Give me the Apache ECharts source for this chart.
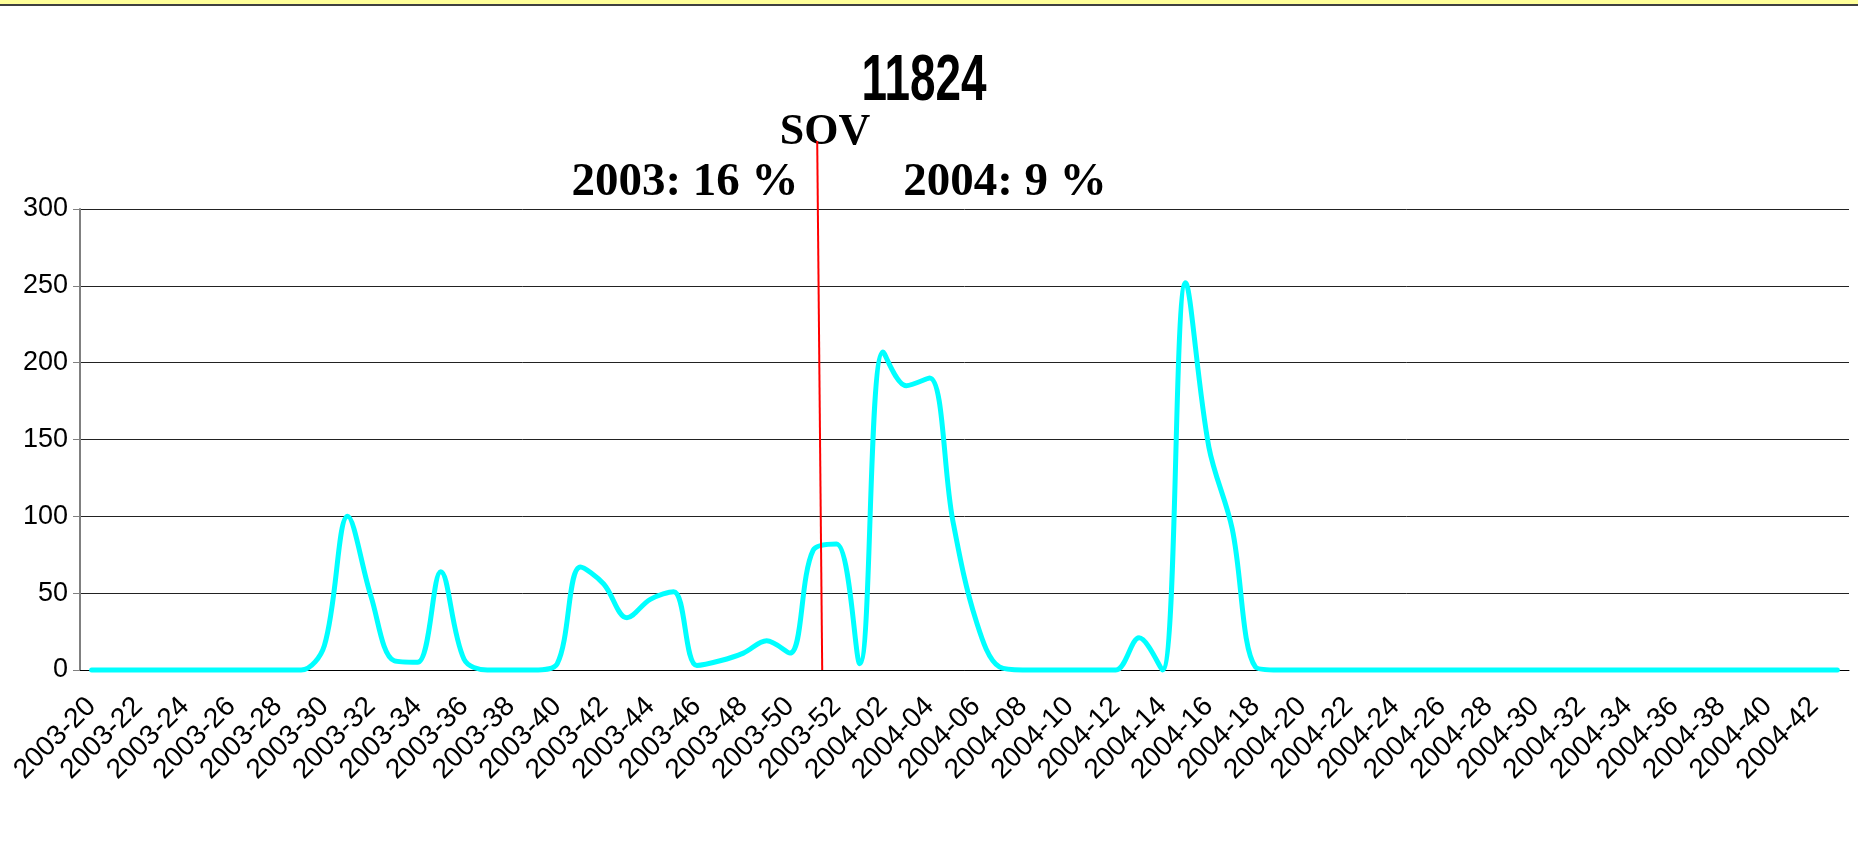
<!DOCTYPE html>
<html>
<head>
<meta charset="utf-8">
<title>11824</title>
<script src="https://cdn.jsdelivr.net/npm/echarts@6/dist/echarts.min.js"></script>
<style>
  html, body { margin: 0; padding: 0; background: #fff; }
  #chart { width: 1858px; height: 849px; }
</style>
</head>
<body>
<div id="chart"></div>
<script>
// week labels: 2003-20 .. 2003-52, 2004-01 .. 2004-43
const weeks2003 = [20, 52]
const weeks2004 = [1, 43]
const categories = []
for (let w = weeks2003[0]; w <= weeks2003[1]; w++) categories.push('2003-' + String(w).padStart(2, '0'))
for (let w = weeks2004[0]; w <= weeks2004[1]; w++) categories.push('2004-' + String(w).padStart(2, '0'))

// weekly values
const values = [
  0, 0, 0, 0, 0, 0, 0, 0, 0, 0,
  16, 100, 48, 6, 5, 64, 7, 0, 0, 0,
  4, 67, 56, 34, 46, 51, 3, 6, 11, 19,
  11, 78, 82, 4, 207, 185, 190, 97, 32, 2,
  0, 0, 0, 0, 0, 21, 0, 252, 145, 92,
  2, 0, 0, 0, 0, 0, 0, 0, 0, 0,
  0, 0, 0, 0, 0, 0, 0, 0, 0, 0,
  0, 0, 0, 0, 0, 0
]

const yTicks = { min: 0, max: 300, interval: 50 }

// texts above the plot
const chartTitle = '11824'
const sovLabel = 'SOV'
const sov2003 = '2003: 16 %'
const sov2004 = '2004: 9 %'
// the red split line sits just after this week
const splitIndex = 31

const chart = echarts.init(document.getElementById('chart'))

const serifBold = {
  fontFamily: '"Liberation Serif", "Times New Roman", serif',
  fontWeight: 'bold',
  color: '#000'
}

const option = {
  backgroundColor: '#fff',
  animation: false,
  title: [
    { text: sovLabel, left: 820, top: 106, textAlign: 'center', textStyle: Object.assign({ fontSize: 44 }, serifBold) },
    { text: sov2003, left: 680, top: 154, textAlign: 'center', textStyle: Object.assign({ fontSize: 47 }, serifBold) },
    { text: sov2004, left: 1000, top: 154, textAlign: 'center', textStyle: Object.assign({ fontSize: 47 }, serifBold) }
  ],
  grid: { left: 80, right: 9, top: 209, bottom: 179 },
  xAxis: {
    type: 'category',
    data: categories,
    boundaryGap: true,
    axisLine: { lineStyle: { color: '#000', width: 1 } },
    axisTick: { interval: 0, length: 8, lineStyle: { color: '#000' } },
    axisLabel: {
      interval: 1,
      rotate: 45,
      margin: 32,
      fontFamily: '"Liberation Sans", Arial, sans-serif',
      fontSize: 28,
      color: '#000'
    },
    splitLine: { show: false }
  },
  yAxis: {
    type: 'value',
    min: yTicks.min,
    max: yTicks.max,
    interval: yTicks.interval,
    axisLine: { show: true, lineStyle: { color: '#808080', width: 2 } },
    axisTick: { show: true, length: 7, lineStyle: { color: '#808080' } },
    axisLabel: {
      margin: 12,
      fontFamily: '"Liberation Sans", Arial, sans-serif',
      fontSize: 27,
      color: '#000'
    },
    splitLine: { lineStyle: { color: '#222', width: 1 } }
  },
  series: [
    {
      type: 'line',
      data: values,
      smooth: 0.35,
      symbol: 'none',
      clip: false,
      lineStyle: { color: '#00ffff', width: 5, cap: 'round', join: 'round' },
      itemStyle: { color: '#00ffff' }
    }
  ]
}

chart.setOption(option)

// top band, narrow title, red SOV divider
const p0 = chart.convertToPixel({ xAxisIndex: 0, yAxisIndex: 0 }, [splitIndex, 0])
chart.setOption({
  graphic: [
    { type: 'rect', shape: { x: 0, y: 0, width: 1858, height: 4 }, style: { fill: '#ffff99' }, silent: true },
    { type: 'rect', shape: { x: 0, y: 4, width: 1858, height: 2 }, style: { fill: '#404040' }, silent: true },
    {
      type: 'text',
      x: 924,
      y: 50,
      scaleX: 0.74,
      scaleY: 1.05,
      silent: true,
      style: {
        text: chartTitle,
        font: 'bold 62px "Liberation Sans", Arial, sans-serif',
        fill: '#000',
        textAlign: 'center',
        textVerticalAlign: 'top'
      }
    },
    {
      type: 'line',
      shape: { x1: p0[0] + 4, y1: 141, x2: p0[0] + 9, y2: p0[1] },
      style: { stroke: '#ff0000', lineWidth: 2 },
      z: 10,
      silent: true
    }
  ]
})
</script>
</body>
</html>
